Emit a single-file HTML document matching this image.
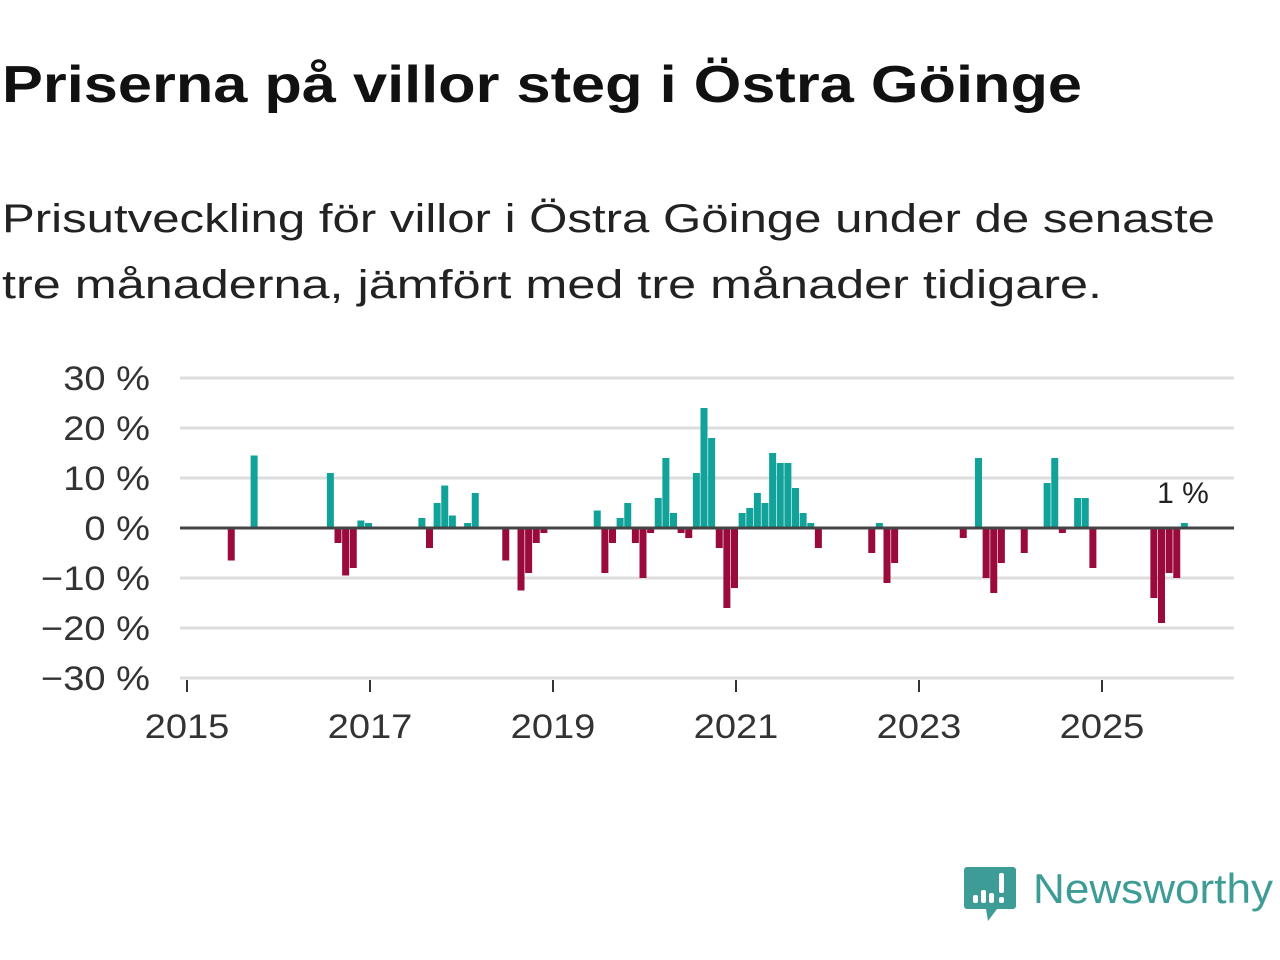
<!DOCTYPE html>
<html><head><meta charset="utf-8"><style>
body{margin:0;width:1280px;height:960px;background:#fff;font-family:"Liberation Sans",sans-serif;overflow:hidden}
svg{position:absolute;left:0;top:0}
</style></head><body>
<svg width="1280" height="960">
<text x="2" y="102" font-size="52" font-weight="bold" fill="#111" textLength="1080" lengthAdjust="spacingAndGlyphs">Priserna på villor steg i Östra Göinge</text>
<text x="2" y="232" font-size="40" fill="#222" textLength="1213" lengthAdjust="spacingAndGlyphs">Prisutveckling för villor i Östra Göinge under de senaste</text>
<text x="2" y="298" font-size="40" fill="#222" textLength="1100" lengthAdjust="spacingAndGlyphs">tre månaderna, jämfört med tre månader tidigare.</text>
<g id="grid"></g><g id="bars"></g><g id="axes"></g>
<text x="1183" y="503" font-size="30" fill="#222" text-anchor="middle">1 %</text>
<g>
<path d="M967 867 h46 a3 3 0 0 1 3 3 v36 a3 3 0 0 1 -3 3 h-16 l-9 12 l-2 -12 h-19 a3 3 0 0 1 -3 -3 v-36 a3 3 0 0 1 3 -3z" fill="#3e9c96"/>
<rect x="973" y="895" width="5" height="8" rx="2" fill="#fff"/>
<rect x="981" y="890" width="5" height="13" rx="2" fill="#fff"/>
<rect x="989" y="893" width="5" height="10" rx="2" fill="#fff"/>
<rect x="999" y="873" width="5" height="20" rx="2" fill="#fff"/>
<rect x="999" y="897" width="5" height="6" rx="2" fill="#fff"/>
<text x="1033" y="903" font-size="42" fill="#3e9c96" textLength="240" lengthAdjust="spacingAndGlyphs">Newsworthy</text>
</g>
</svg>
<script>
const months=[6,9,19,20,21,22,23,24,31,32,33,34,35,37,38,42,44,45,46,47,54,55,56,57,58,59,60,61,62,63,64,65,66,67,68,69,70,71,72,73,74,75,76,77,78,79,80,81,82,83,90,91,92,93,102,104,105,106,107,110,113,114,115,117,118,119,127,128,129,130,131];
const values=[-6.5,14.5,11,-3,-9.5,-8,1.5,1,2,-4,5,8.5,2.5,1,7,-6.5,-12.5,-9,-3,-1,3.5,-9,-3,2,5,-3,-10,-1,6,14,3,-1,-2,11,24,18,-4,-16,-12,3,4,7,5,15,13,13,8,3,1,-4,-5,1,-11,-7,-2,14,-10,-13,-7,-5,9,14,-1,6,6,-8,-14,-19,-9,-10,1];
const yTicks=[30,20,10,0,-10,-20,-30];
const yLabels=["30 %","20 %","10 %","0 %","\u221210 %","\u221220 %","\u221230 %"];
const xYears=[2015,2017,2019,2021,2023,2025];
const NS="http://www.w3.org/2000/svg";
const y=v=>528-v*5;
const x=m=>187+m*7.625-1.5;
const xy=yr=>187+(yr-2015)*12*7.625;
function mk(t,a,p){const e=document.createElementNS(NS,t);for(const k in a)e.setAttribute(k,a[k]);p.appendChild(e);return e;}
const grid=document.getElementById('grid'),bars=document.getElementById('bars'),axes=document.getElementById('axes');
yTicks.forEach((v,i)=>{
 if(v!==0){const l=mk('line',{x1:180,x2:1234,y1:y(v),y2:y(v),stroke:'#ddd','stroke-width':3},grid);
 
 }
 const t=mk('text',{x:150,y:y(v)+12,'font-size':34,fill:'#333','text-anchor':'end',transform:`translate(150 0) scale(1.12 1) translate(-150 0)`},axes);t.textContent=yLabels[i];
 
 
});
months.forEach((m,i)=>{const v=values[i];
 const r=mk('rect',{x:x(m)-3.5,width:7,y:v>=0?y(v):y(0),height:Math.abs(v)*5,fill:v>=0?'#11a39a':'#9b0a3c'},bars);
 
 
});
const z=mk('line',{x1:180,x2:1234,y1:528,y2:528,stroke:'#444','stroke-width':3},axes);


xYears.forEach(yr=>{const xx=xy(yr);
 const tk=mk('line',{x1:xx,x2:xx,y1:680,y2:692,stroke:'#333','stroke-width':2},axes);
 
 
 const t=mk('text',{x:xx,y:738,'font-size':34,fill:'#333','text-anchor':'middle',transform:`translate(${xx} 0) scale(1.12 1) translate(${-xx} 0)`},axes);t.textContent=yr;
 
 
});
</script>
</body></html>
